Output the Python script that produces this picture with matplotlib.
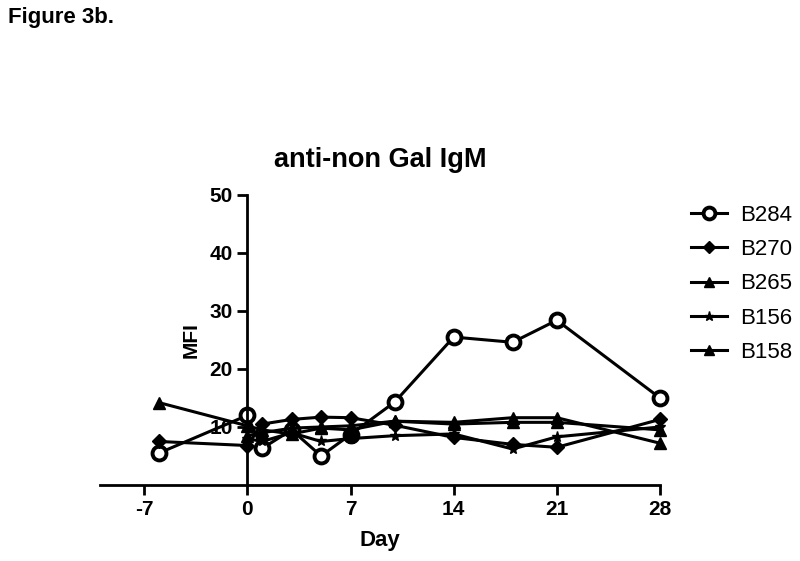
import matplotlib
matplotlib.use('Agg')
import matplotlib.pyplot as plt
import numpy as np

plt.rcParams['font.family'] = ['Liberation Sans', 'DejaVu Sans']

# Данные
days = [-6, 0, 1, 3, 5, 7, 10, 14, 18, 21, 28]
b284 = [5.5, 12.0, 6.3, 9.5, 5.0, 8.7, 14.3, 25.5, 24.6, 28.4, 15.0]
b270 = [7.5, 6.8, 10.5, 11.3, 11.7, 11.6, 10.3, 8.2, 7.0, 6.5, 11.3]
b265 = [np.nan, 8.5, 9.0, 9.8, 10.0, 10.2, 11.0, 10.8, 11.6, 11.6, 7.2]
b156 = [np.nan, 8.0, 7.5, 9.0, 7.5, 8.0, 8.5, 8.8, 6.2, 8.3, 10.0]
b158 = [14.2, 10.2, 9.5, 8.8, 9.8, 9.5, 11.0, 10.5, 10.8, 10.8, 9.5]

series_names = ['B284', 'B270', 'B265', 'B156', 'B158']
series_values = [b284, b270, b265, b156, b158]
x_ticks = [-7, 0, 7, 14, 21, 28]
y_ticks = [10, 20, 30, 40, 50]

fig = plt.figure(figsize=(8, 5.61), dpi=100)
ax = fig.add_axes([0.125, 0.1355, 0.70, 0.517])

# Стили маркеров
styles = {
    'B284': dict(marker='o', markersize=10, markerfacecolor='white', markeredgewidth=2.8),
    'B270': dict(marker='D', markersize=7),
    'B265': dict(marker='^', markersize=8),
    'B156': dict(marker='*', markersize=8),
    'B158': dict(marker='^', markersize=8),
}

for name, vals in zip(series_names, series_values):
    d = np.array(days, dtype=float)
    v = np.array(vals, dtype=float)
    ok = ~np.isnan(v)
    ax.plot(d[ok], v[ok], color='black', linewidth=2.2, label=name,
            clip_on=False, **styles[name])

ax.set_xlim(-10, 28)
ax.set_ylim(0, 50)
ax.set_xticks(x_ticks)
ax.set_xticklabels([str(t) for t in x_ticks])
ax.set_yticks(y_ticks)

ax.spines['top'].set_visible(False)
ax.spines['right'].set_visible(False)
ax.spines['left'].set_position(('data', 0))
ax.spines['left'].set_linewidth(2)
ax.spines['bottom'].set_linewidth(2)
ax.tick_params(axis='both', direction='out', width=2, length=7, labelsize=15)
for lbl in ax.get_xticklabels() + ax.get_yticklabels():
    lbl.set_fontweight('bold')

ax.set_xlabel('Day', fontsize=16, fontweight='bold', labelpad=8)
ax.set_ylabel('MFI', fontsize=15, fontweight='bold')
ax.yaxis.set_label_coords(0.18, 0.5)
ax.set_title('anti-non Gal IgM', fontsize=19.5, fontweight='bold', pad=20)

leg = ax.legend(loc='upper left', bbox_to_anchor=(1.02, 1.035), frameon=False,
                fontsize=16, handlelength=1.6, handletextpad=0.6,
                labelspacing=0.6, markerscale=0.85)

fig.text(0.010, 0.968, 'Figure 3b.', fontsize=16, fontweight='bold', va='center')

fig.savefig('out.png', dpi=100)
